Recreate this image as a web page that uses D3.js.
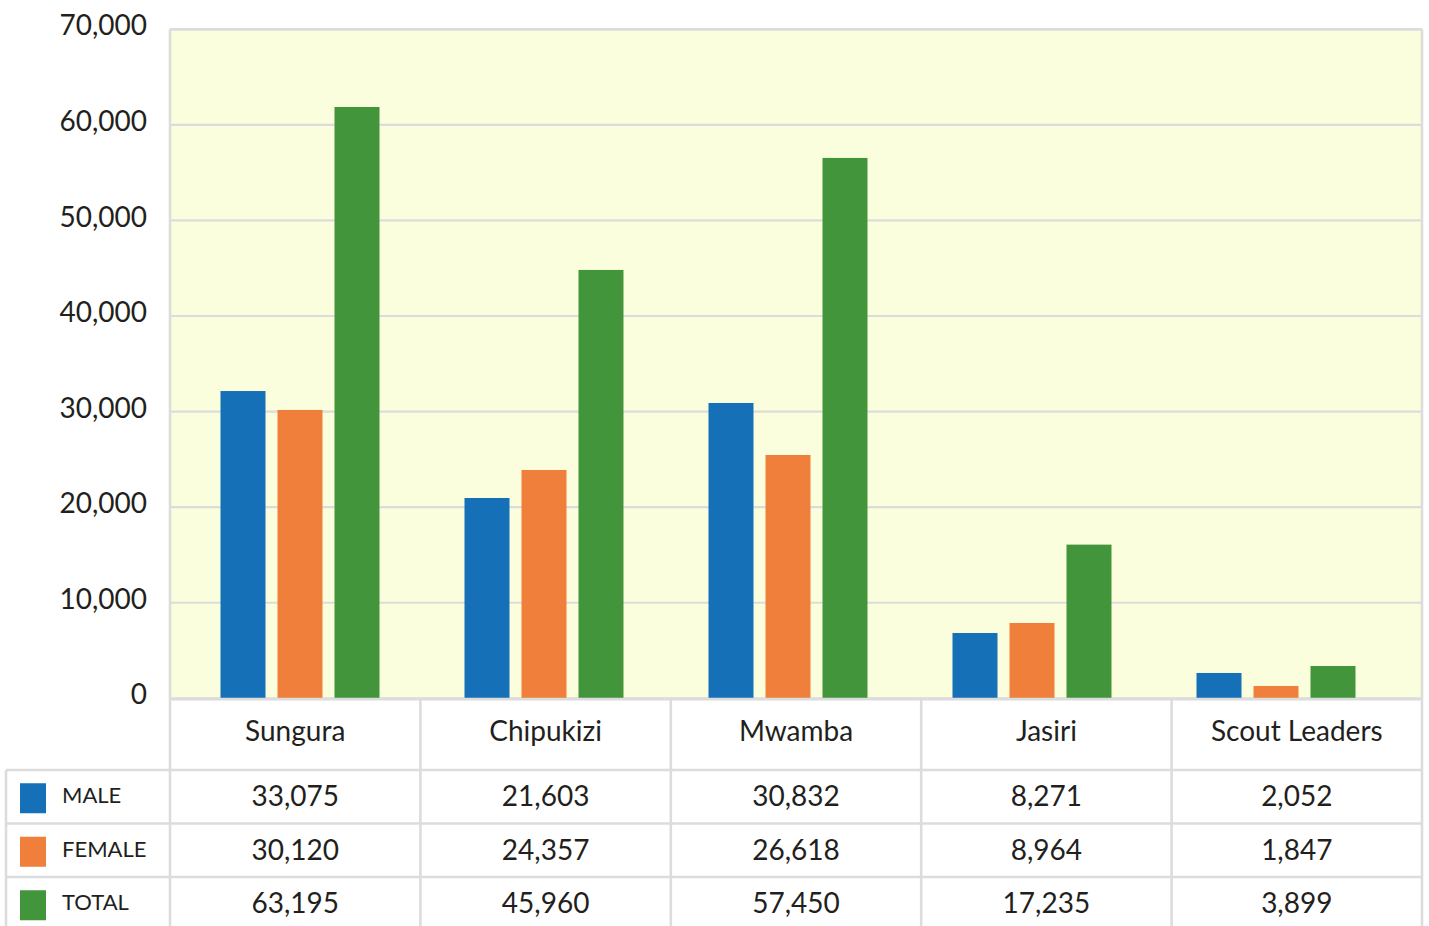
<!DOCTYPE html>
<html>
<head>
<meta charset="utf-8">
<script src="https://cdn.jsdelivr.net/npm/d3@7"></script>
<style>
  html, body { margin: 0; padding: 0; background: #ffffff; }
  svg { display: block; }
  text { font-family: "Lato", "Noto Sans", sans-serif; font-weight: 400; fill: #231f20; }
</style>
</head>
<body>
<svg id="chart" width="1429" height="926"></svg>
<script>
// ---- data ----
const categories = ["Sungura", "Chipukizi", "Mwamba", "Jasiri", "Scout Leaders"];
const seriesNames = ["MALE", "FEMALE", "TOTAL"];
const seriesColors = ["#1570b8", "#ef7f3a", "#42953a"];
// bar heights as drawn in the picture
const barMale   = [32150, 20960, 30900, 6830, 2650];
const barFemale = [30170, 23890, 25460, 7880, 1290];
const barTotal  = [61870, 44820, 56540, 16080, 3380];
// values printed in the table
const tableMale   = [33075, 21603, 30832, 8271, 2052];
const tableFemale = [30120, 24357, 26618, 8964, 1847];
const tableTotal  = [63195, 45960, 57450, 17235, 3899];
const yTicks = [0, 10000, 20000, 30000, 40000, 50000, 60000, 70000];

const barSeries = [barMale, barFemale, barTotal];
const tableSeries = [tableMale, tableFemale, tableTotal];

// ---- layout ----
const W = 1429, H = 926;
const plot = { left: 170, right: 1422, top: 29.3, bottom: 698.3 };
const gridColor = "#dcdcdc";
const fmt = d3.format(",");

const svg = d3.select("#chart");

const y = d3.scaleLinear().domain([0, 70000]).range([plot.bottom, plot.top]);
const xGroup = d3.scaleBand().domain(categories).range([178, 1398]).paddingInner(0).paddingOuter(0);
const xBar = d3.scaleBand().domain(seriesNames).range([-79.5, 79.5]).paddingInner(12 / 57).paddingOuter(0);
const xTable = d3.scaleBand().domain(categories).range([plot.left, plot.right]);
const rowY = d3.scaleBand().domain(seriesNames).range([770, 930.5]);

// plot background
svg.append("rect")
  .attr("x", plot.left).attr("y", plot.top)
  .attr("width", plot.right - plot.left).attr("height", plot.bottom - plot.top)
  .attr("fill", "#fafedc");

// gridlines
svg.append("g").selectAll("line").data(yTicks).join("line")
  .attr("x1", plot.left).attr("x2", plot.right)
  .attr("y1", d => y(d)).attr("y2", d => y(d))
  .attr("stroke", gridColor).attr("stroke-width", 2.2);

// y axis labels
const yAxis = d3.axisLeft(y).tickValues(yTicks).tickFormat(fmt).tickSize(0).tickPadding(23);
const ya = svg.append("g").attr("transform", `translate(${plot.left},0)`).call(yAxis);
ya.select(".domain").remove();
ya.selectAll("text")
  .attr("dy", "0.2em")
  .style("font-family", '"Lato", "Noto Sans", sans-serif')
  .style("font-weight", "400")
  .style("font-size", "28px")
  .attr("fill", "#231f20");

// bars
const groups = svg.append("g").selectAll("g").data(categories).join("g")
  .attr("transform", c => `translate(${xGroup(c) + xGroup.bandwidth() / 2},0)`);
groups.selectAll("rect")
  .data((c, i) => seriesNames.map((s, j) => ({ s, j, v: barSeries[j][i] })))
  .join("rect")
  .attr("x", d => xBar(d.s))
  .attr("width", xBar.bandwidth())
  .attr("y", d => y(d.v))
  .attr("height", d => y(0) - y(d.v))
  .attr("fill", d => seriesColors[d.j]);

// plot border (top, left, right) + baseline
const border = svg.append("g").attr("stroke", gridColor).attr("stroke-width", 2.6);
border.append("line").attr("x1", plot.left).attr("x2", plot.right).attr("y1", plot.top).attr("y2", plot.top);
border.append("line").attr("x1", plot.left).attr("x2", plot.left).attr("y1", plot.top).attr("y2", H);
border.append("line").attr("x1", plot.right).attr("x2", plot.right).attr("y1", plot.top).attr("y2", H);
border.append("line").attr("x1", plot.left).attr("x2", plot.right).attr("y1", plot.bottom + 0.8).attr("y2", plot.bottom + 0.8);

// table lines
const tl = svg.append("g").attr("stroke", gridColor).attr("stroke-width", 2.6);
tl.selectAll("line.v").data(categories.slice(1)).join("line").attr("class", "v")
  .attr("x1", c => xTable(c)).attr("x2", c => xTable(c))
  .attr("y1", plot.bottom).attr("y2", H);
tl.selectAll("line.h").data(seriesNames).join("line").attr("class", "h")
  .attr("x1", 6).attr("x2", plot.right)
  .attr("y1", s => rowY(s)).attr("y2", s => rowY(s));
tl.append("line").attr("x1", 6).attr("x2", 6).attr("y1", rowY(seriesNames[0])).attr("y2", H);

// header labels
svg.append("g").selectAll("text").data(categories).join("text")
  .attr("x", c => xTable(c) + xTable.bandwidth() / 2)
  .attr("y", 741)
  .attr("text-anchor", "middle")
  .style("font-size", "28px")
  .text(c => c);

// table values
seriesNames.forEach((s, j) => {
  const cy = rowY(s) + rowY.bandwidth() / 2;
  svg.append("g").selectAll("text").data(categories).join("text")
    .attr("x", c => xTable(c) + xTable.bandwidth() / 2)
    .attr("y", cy + 9.5)
    .attr("text-anchor", "middle")
    .style("font-size", "28px")
    .text((c, i) => fmt(tableSeries[j][i]));
  // legend swatch + label
  svg.append("rect")
    .attr("x", 20).attr("y", cy - 13.5)
    .attr("width", 26).attr("height", 30)
    .attr("fill", seriesColors[j]);
  svg.append("text")
    .attr("x", 62).attr("y", cy + 6.5)
    .style("font-size", "22px")
    .text(s);
});
</script>
</body>
</html>
